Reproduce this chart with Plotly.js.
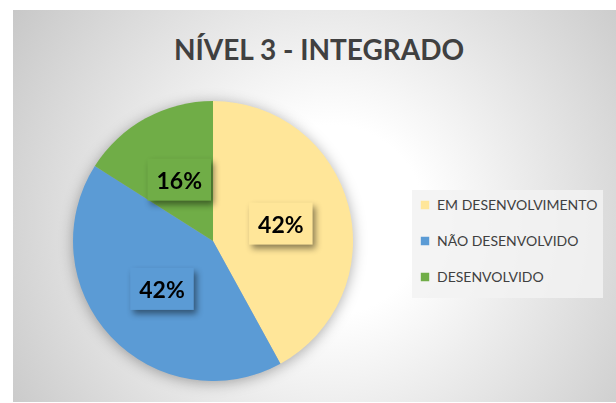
<!DOCTYPE html>
<html>
<head>
<meta charset="utf-8">
<script src="https://cdn.plot.ly/plotly-3.0.1.min.js"></script>
<style>
  html, body { margin: 0; padding: 0; background: #ffffff; }
  #wrap { position: relative; width: 616px; height: 403px; overflow: hidden; background: #ffffff; }
  #bg { position: absolute; left: 13px; top: 10px; width: 603px; height: 392px;
        background: radial-gradient(circle at 317px 210px, #ffffff 0px, #ffffff 95px, #c6c6c6 390px); }
  #chart { position: absolute; left: 0; top: 0; width: 616px; height: 403px; }
  .pielayer { filter: drop-shadow(0px 2px 7px rgba(0,0,0,0.32)); }
</style>
</head>
<body>
<div id="wrap">
  <div id="bg"></div>
  <div id="chart"></div>
</div>
<script>
const titleText = 'NÍVEL 3 - INTEGRADO';
const categories = ['EM DESENVOLVIMENTO', 'NÃO DESENVOLVIDO', 'DESENVOLVIDO'];
const values = [42, 42, 16];
const colors = ['#FFE699', '#5B9BD5', '#70AD47'];

const legendLabels = categories.map(c => '<span style="font-size:14px">' + c + '</span><br> ');

const data = [{
  type: 'pie',
  labels: legendLabels,
  values: values,
  sort: false,
  direction: 'clockwise',
  rotation: 0,
  marker: { colors: colors, line: { width: 0 } },
  textinfo: 'percent',
  texttemplate: '%{percent:.0%}',
  textposition: 'inside',
  insidetextorientation: 'horizontal',
  textfont: { family: 'Lato', size: 23, color: '#000000', weight: 'bold' },
  hoverinfo: 'skip',
  domain: { x: [0.1185, 0.5731], y: [0.0546, 0.7494] }
}];

const layout = {
  width: 616,
  height: 403,
  margin: { l: 0, r: 0, t: 0, b: 0 },
  paper_bgcolor: 'rgba(0,0,0,0)',
  plot_bgcolor: 'rgba(0,0,0,0)',
  title: {
    text: '<b>' + titleText + '</b>',
    x: 0.518, xanchor: 'center',
    y: 0.876, yanchor: 'middle',
    font: { family: 'Lato', size: 28, color: '#404040' }
  },
  showlegend: true,
  legend: {
    x: 0.6445, xanchor: 'left',
    y: 0.528, yanchor: 'top',
    bgcolor: 'rgba(242,242,242,0.85)',
    borderwidth: 0,
    valign: 'top',
    font: { family: 'Lato', size: 12.7, color: '#404040' }
  }
};

Plotly.newPlot('chart', data, layout, { staticPlot: true, displayModeBar: false }).then(function (gd) {
  const cd = gd.calcdata[0];
  const cd0 = cd[0];
  const labelFrac = 0.5; // labels centred halfway along each slice bisector
  const slices = gd.querySelectorAll('.pielayer .slice');
  slices.forEach(function (g, i) {
    const txt = g.querySelector('text.slicetext');
    if (!txt) return;
    const pt = cd[i];
    const bb = txt.getBBox();
    if (pt && pt.pxmid && cd0.cx !== undefined) {
      const X = cd0.cx + labelFrac * pt.pxmid[0];
      const Y = cd0.cy + labelFrac * pt.pxmid[1];
      txt.setAttribute('transform', 'translate(' + (X - (bb.x + bb.width / 2)) + ',' + (Y - (bb.y + bb.height / 2)) + ')');
    }
    const padX = 9, padY = 9;
    const rect = document.createElementNS('http://www.w3.org/2000/svg', 'rect');
    rect.setAttribute('x', bb.x - padX);
    rect.setAttribute('y', bb.y - padY + 2);
    rect.setAttribute('width', bb.width + 2 * padX);
    rect.setAttribute('height', bb.height + 2 * padY - 4);
    const tr = txt.getAttribute('transform');
    if (tr) rect.setAttribute('transform', tr);
    rect.setAttribute('fill', colors[i]);
    rect.style.filter = 'drop-shadow(3px 4px 3px rgba(0,0,0,0.45))';
    txt.parentNode.insertBefore(rect, txt);
  });
  gd.querySelectorAll('.legend .legendpoints path').forEach(function (p) {
    const t = p.getAttribute('transform') || '';
    p.setAttribute('transform', t + ' translate(8,0) scale(0.7)');
  });
  const bgr = gd.querySelector('.legend rect.bg');
  if (bgr) {
    const x0 = parseFloat(bgr.getAttribute('x') || 0);
    const w0 = parseFloat(bgr.getAttribute('width') || 0);
    const h0 = parseFloat(bgr.getAttribute('height') || 0);
    bgr.setAttribute('x', x0 + 15);
    bgr.setAttribute('width', w0 - 15);
    bgr.setAttribute('height', h0 - 11);
  }
});
</script>
</body>
</html>
